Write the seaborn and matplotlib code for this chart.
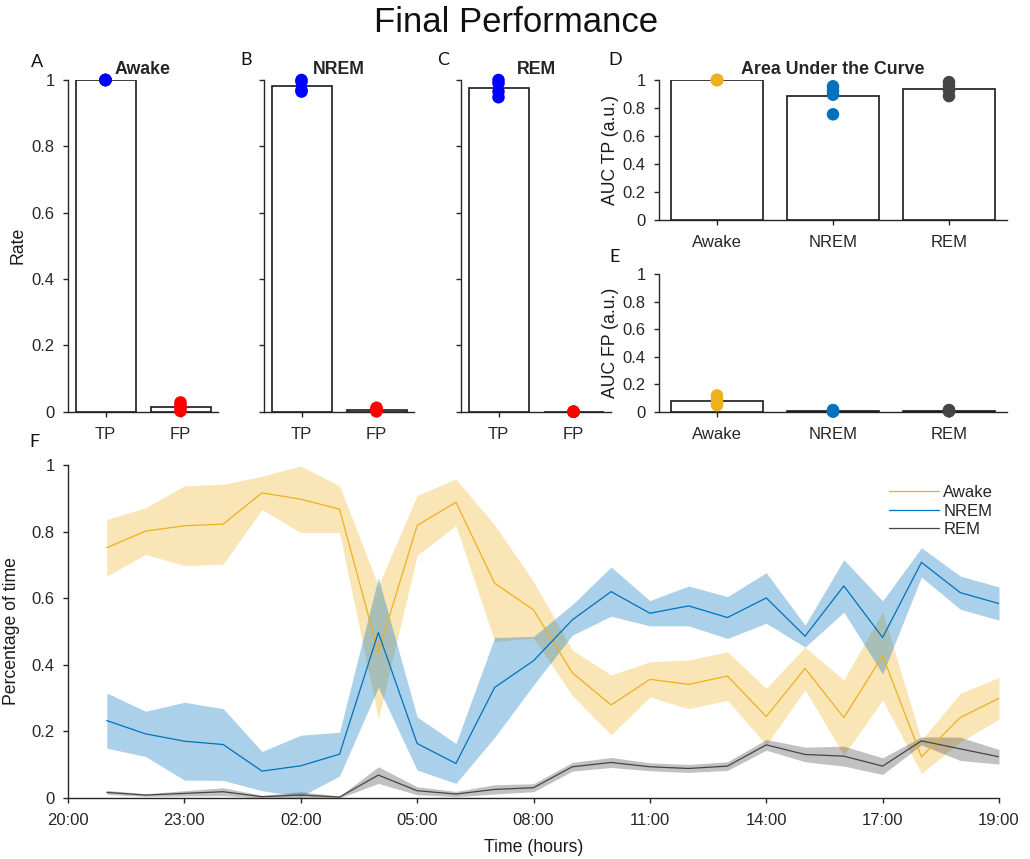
import numpy as np
import pandas as pd
import matplotlib
matplotlib.use("Agg")
import matplotlib.pyplot as plt
import seaborn as sns

# ---------------------------------------------------------------- data
# Per-animal detection rates (panels A-C)
rate_classes = ["TP", "FP"]
awake_tp = [1.0, 1.0, 1.0, 1.0]
awake_fp = [0.028, 0.020, 0.010, 0.002]
nrem_tp = [1.0, 0.995, 0.970, 0.965]
nrem_fp = [0.012, 0.008, 0.003, 0.001]
rem_tp = [1.0, 0.990, 0.965, 0.948]
rem_fp = [0.0, 0.0, 0.0, 0.0]

# Per-animal area under the curve (panels D-E)
states = ["Awake", "NREM", "REM"]
auc_tp_awake = [1.0, 1.0, 1.0, 1.0]
auc_tp_nrem = [0.955, 0.925, 0.895, 0.755]
auc_tp_rem = [0.985, 0.955, 0.925, 0.885]
auc_fp_awake = [0.118, 0.092, 0.062, 0.048]
auc_fp_nrem = [0.012, 0.005, 0.002, 0.001]
auc_fp_rem = [0.012, 0.008, 0.005, 0.003]

# Hourly fraction of time in each state, mean and s.e.m. (panel F)
hours = list(range(1, 25))
time_labels = ["20:00", "23:00", "02:00", "05:00", "08:00",
               "11:00", "14:00", "17:00", "19:00"]
awake_mean = [0.752, 0.802, 0.818, 0.823, 0.917, 0.898, 0.868, 0.437,
              0.819, 0.889, 0.645, 0.565, 0.376, 0.279, 0.356, 0.341,
              0.366, 0.244, 0.389, 0.241, 0.427, 0.123, 0.241, 0.299]
awake_sem = [0.085, 0.070, 0.120, 0.120, 0.050, 0.100, 0.070, 0.200,
             0.090, 0.070, 0.175, 0.085, 0.068, 0.090, 0.053, 0.073,
             0.073, 0.085, 0.064, 0.113, 0.133, 0.050, 0.073, 0.063]
nrem_mean = [0.232, 0.192, 0.170, 0.160, 0.080, 0.096, 0.131, 0.497,
             0.163, 0.103, 0.332, 0.412, 0.535, 0.620, 0.555, 0.577,
             0.542, 0.601, 0.486, 0.637, 0.482, 0.708, 0.617, 0.584]
nrem_sem = [0.083, 0.068, 0.117, 0.108, 0.059, 0.092, 0.066, 0.165,
            0.080, 0.060, 0.150, 0.073, 0.046, 0.074, 0.038, 0.060,
            0.063, 0.076, 0.033, 0.079, 0.110, 0.044, 0.050, 0.050]
rem_mean = [0.016, 0.008, 0.013, 0.018, 0.003, 0.008, 0.002, 0.068,
            0.021, 0.011, 0.025, 0.030, 0.093, 0.106, 0.093, 0.088,
            0.095, 0.159, 0.130, 0.125, 0.095, 0.171, 0.147, 0.123]
rem_sem = [0.006, 0.004, 0.008, 0.012, 0.004, 0.010, 0.003, 0.025,
           0.012, 0.008, 0.014, 0.012, 0.013, 0.015, 0.012, 0.012,
           0.013, 0.016, 0.022, 0.030, 0.025, 0.012, 0.035, 0.022]

state_colors = {"Awake": "#EDB120", "NREM": "#0072BD", "REM": "#454545"}
rate_colors = {"TP": "#0000FF", "FP": "#FF0000"}

# ---------------------------------------------------------------- style
sns.set_theme(style="ticks")
plt.rcParams["font.family"] = ["Liberation Sans", "DejaVu Sans"]
AX_COLOR = "#262626"
plt.rcParams.update({
    "axes.edgecolor": AX_COLOR, "axes.linewidth": 1.0,
    "xtick.color": AX_COLOR, "ytick.color": AX_COLOR,
    "xtick.direction": "out", "ytick.direction": "out",
    "xtick.major.size": 3.5, "ytick.major.size": 3.5,
    "xtick.major.width": 1.0, "ytick.major.width": 1.0,
    "xtick.major.pad": 7.5, "ytick.major.pad": 6.0,
    "xtick.labelsize": 12, "ytick.labelsize": 12,
    "axes.labelsize": 12.7, "axes.labelcolor": "#1a1a1a",
})

W, H = 1030, 859
fig = plt.figure(figsize=(W / 100, H / 100), dpi=100)


def rect(x0, y_top, x1, y_bottom):
    return [x0 / W, 1 - y_bottom / H, (x1 - x0) / W, (y_bottom - y_top) / H]


unit_ticks = [0, 0.2, 0.4, 0.6, 0.8, 1.0]
unit_labels = ["0", "0.2", "0.4", "0.6", "0.8", "1"]


def finish(ax, show_ylabels=True):
    sns.despine(ax=ax)
    ax.set_ylim(0, 1)
    ax.set_yticks(unit_ticks)
    if show_ylabels:
        ax.set_yticklabels(unit_labels)
    else:
        ax.tick_params(axis="y", labelleft=False)
    ax.set_xlabel("")


def bar_with_points(ax, cats, groups, palette):
    df = pd.DataFrame({
        "cat": [c for c, g in zip(cats, groups) for _ in g],
        "val": [v for g in groups for v in g],
    })
    sns.barplot(data=df, x="cat", y="val", order=cats, errorbar=None,
                color="white", edgecolor="#1a1a1a", linewidth=1.2,
                width=0.8, ax=ax)
    sns.stripplot(data=df, x="cat", y="val", order=cats, hue="cat",
                  palette=palette, jitter=False, size=9, linewidth=0,
                  legend=False, ax=ax, zorder=4, clip_on=False)
    ax.set_xlim(-0.5, len(cats) - 0.5)


# ---------------------------------------------------------------- panels A-C
rate_sets = [("Awake", awake_tp, awake_fp),
             ("NREM", nrem_tp, nrem_fp),
             ("REM", rem_tp, rem_fp)]
lefts = [68, 264, 461]
for i, (title, tp, fp) in enumerate(rate_sets):
    ax = fig.add_axes(rect(lefts[i], 80, lefts[i] + 150, 411.7))
    bar_with_points(ax, rate_classes, [tp, fp], rate_colors)
    finish(ax, show_ylabels=(i == 0))
    ax.set_title(title, fontsize=12.8, fontweight="bold", pad=4)
    ax.set_ylabel("Rate" if i == 0 else "")
    if i == 0:
        ax.yaxis.set_label_coords(-0.28, 0.5)

# ---------------------------------------------------------------- panels D-E
axd = fig.add_axes(rect(659, 80, 1007, 220))
bar_with_points(axd, states, [auc_tp_awake, auc_tp_nrem, auc_tp_rem],
                state_colors)
finish(axd)
axd.set_title("Area Under the Curve", fontsize=12.8, fontweight="bold", pad=4)
axd.set_ylabel("AUC TP (a.u.)")
axd.yaxis.set_label_coords(-0.115, 0.5)

axe = fig.add_axes(rect(659, 274, 1007, 411.7))
bar_with_points(axe, states, [auc_fp_awake, auc_fp_nrem, auc_fp_rem],
                state_colors)
finish(axe)
axe.set_ylabel("AUC FP (a.u.)")
axe.yaxis.set_label_coords(-0.115, 0.5)

# ---------------------------------------------------------------- panel F
axf = fig.add_axes(rect(68, 465.3, 999, 797.7))
series = [("Awake", awake_mean, awake_sem),
          ("NREM", nrem_mean, nrem_sem),
          ("REM", rem_mean, rem_sem)]
for name, mean, sem in series:
    m = np.asarray(mean)
    s = np.asarray(sem)
    axf.fill_between(hours, m - s, m + s, color=state_colors[name],
                     alpha=0.33, linewidth=0, zorder=1)
for name, mean, sem in series:
    sns.lineplot(x=hours, y=mean, color=state_colors[name], linewidth=0.9,
                 label=name, ax=axf, zorder=3)
axf.set_xlim(0, 24)
finish(axf)
axf.set_xticks(range(0, 25, 3))
axf.set_xticklabels(time_labels)
axf.set_xlabel("Time (hours)")
axf.set_ylabel("Percentage of time")
axf.xaxis.set_label_coords(0.5, -0.125)
axf.yaxis.set_label_coords(-0.052, 0.5)
axf.legend(frameon=False, loc="upper right", bbox_to_anchor=(1.01, 0.985),
           handlelength=3.0, handletextpad=0.25, labelspacing=0.2,
           fontsize=12)

# ---------------------------------------------------------------- labels
fig.text(0.501, 1 - 22 / H, "Final Performance", fontsize=25,
         ha="center", va="center", color="#111111")
letters = [("A", 37, 62), ("B", 246, 60), ("C", 443, 60),
           ("D", 615, 60), ("E", 615, 257), ("F", 34, 442)]
for letter, px, py in letters:
    fig.text(px / W, 1 - py / H, letter, fontsize=13, family=["Lato", "DejaVu Sans"],
             ha="center", va="center", color="#111111")

fig.savefig("out.png", dpi=100, facecolor="white")
